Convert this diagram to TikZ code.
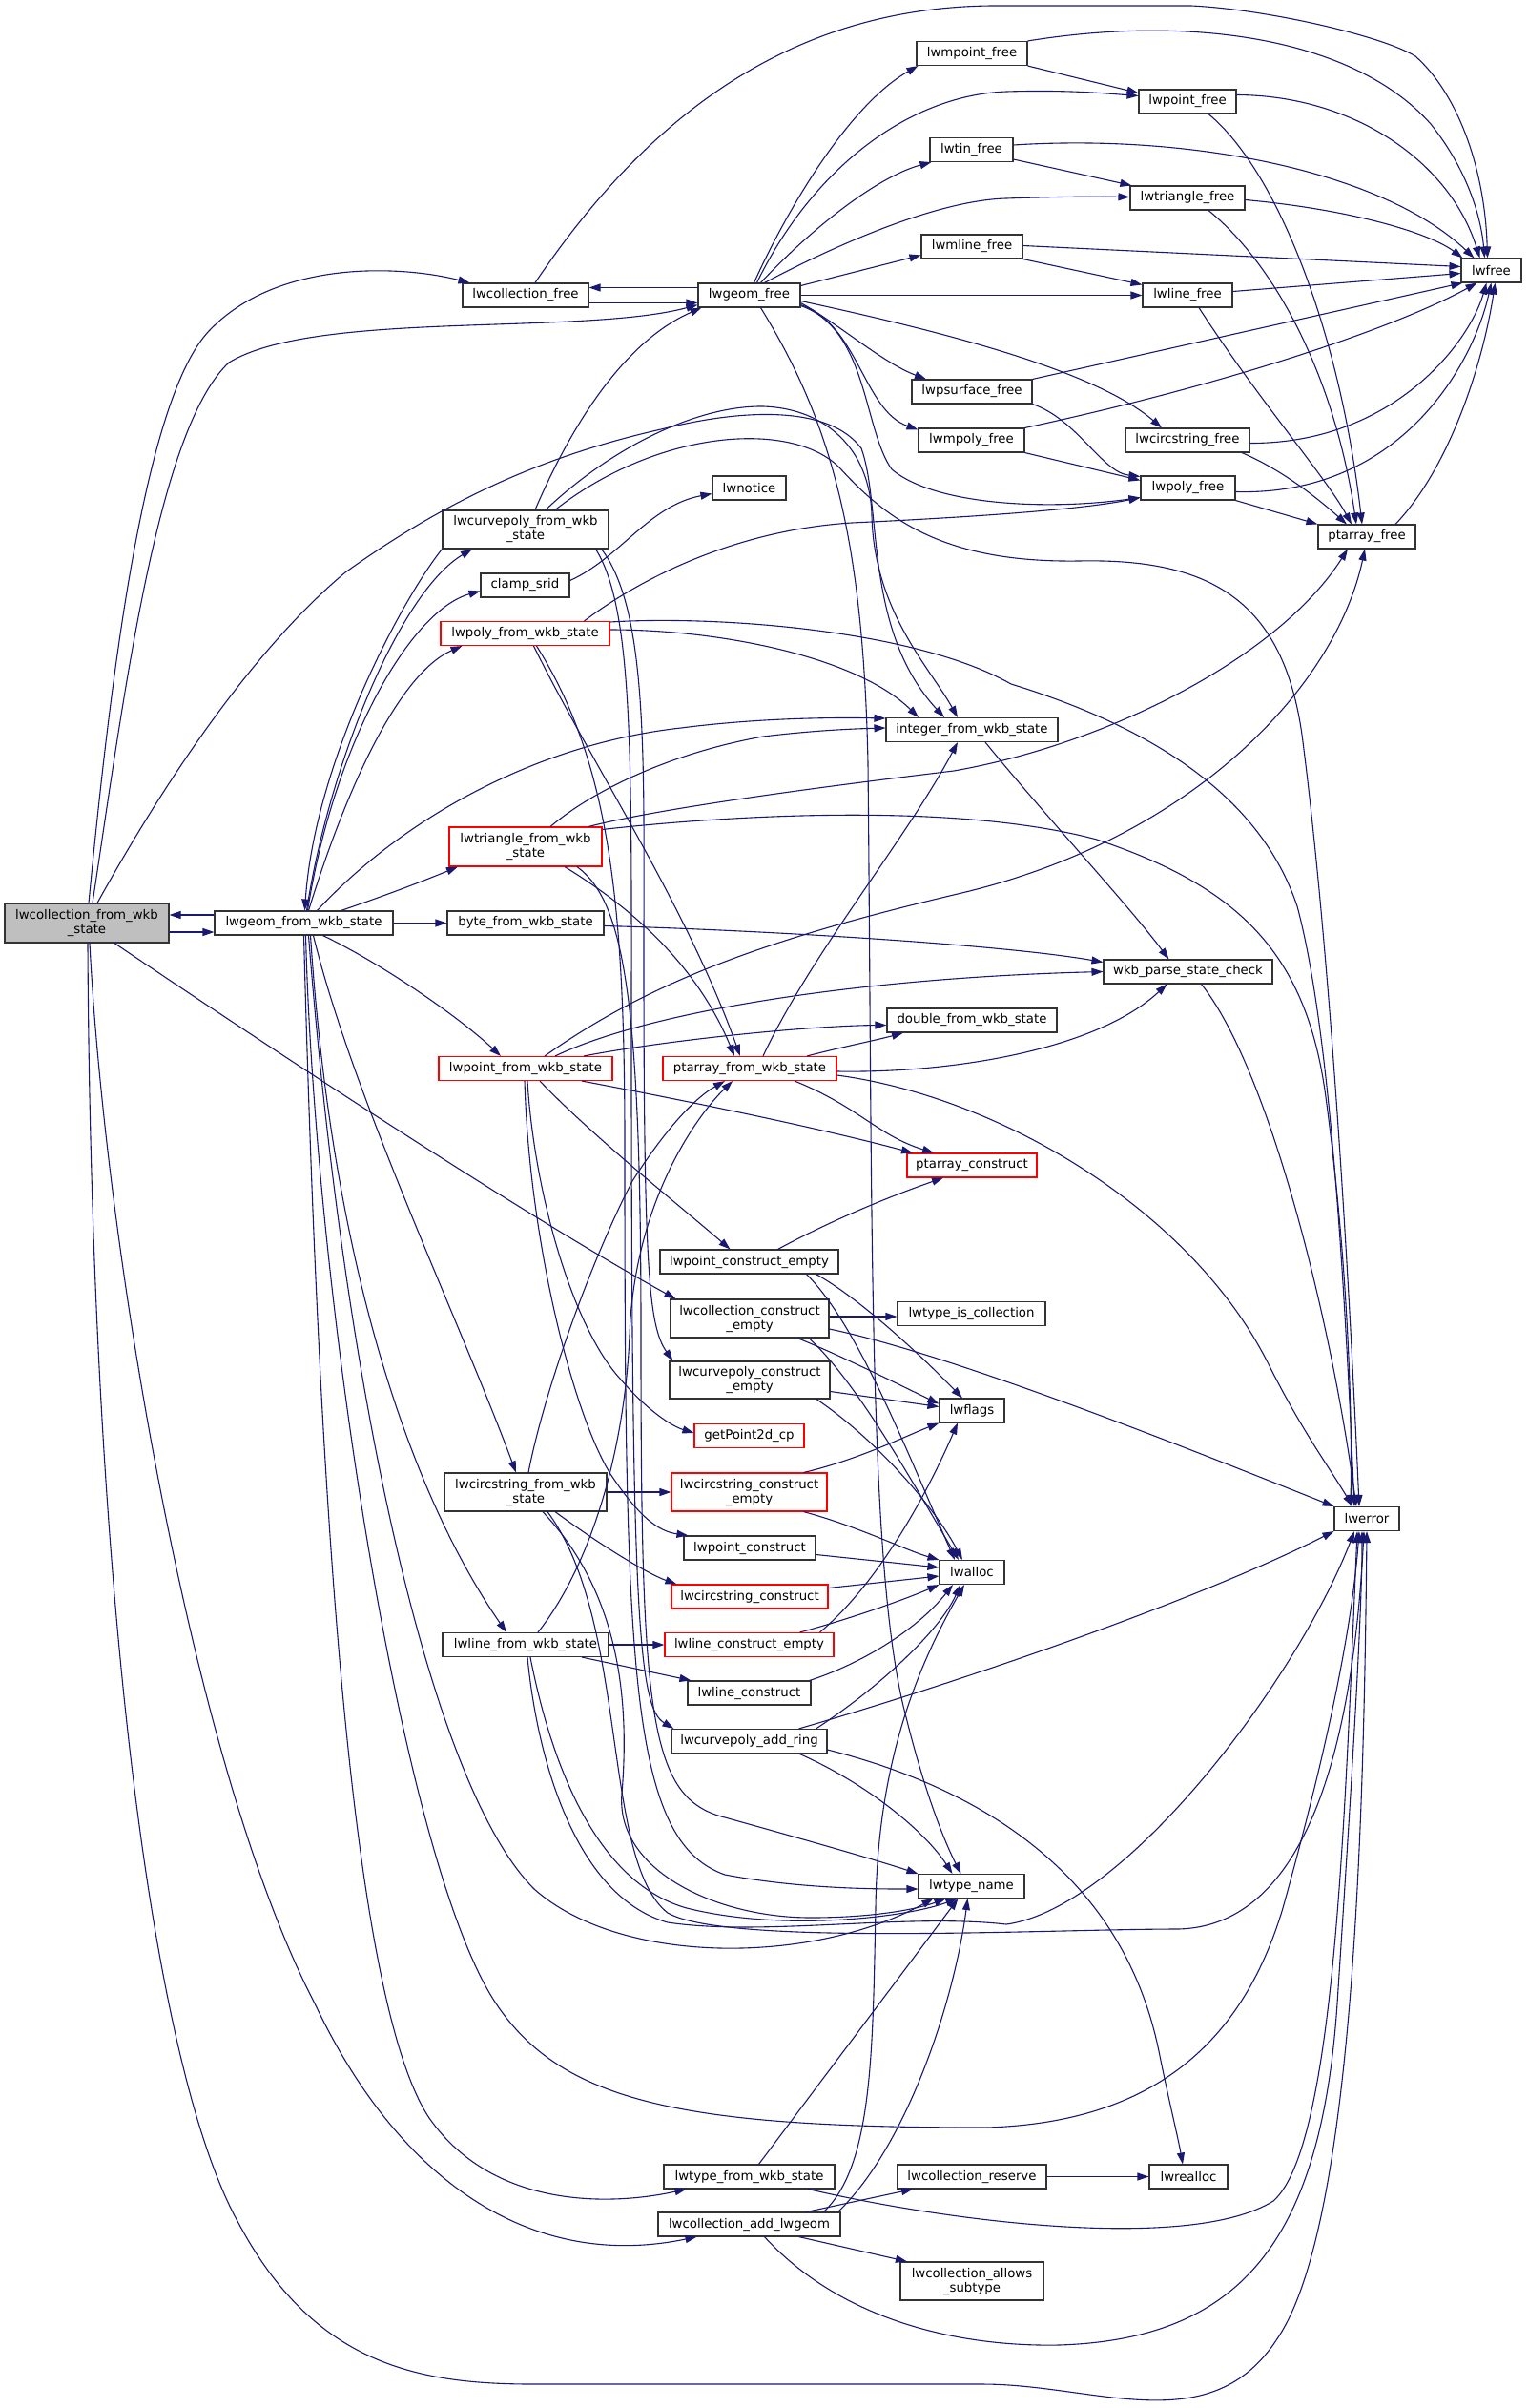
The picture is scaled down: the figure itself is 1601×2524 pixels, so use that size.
\documentclass[tikz,border=0pt]{standalone}
\usepackage{fontspec}
\setmainfont{DejaVu Sans}
\usetikzlibrary{arrows.meta}
\definecolor{edgec}{HTML}{191970}
\definecolor{redb}{HTML}{FF0000}
\definecolor{grayf}{HTML}{BFBFBF}
\newcommand\nf{\fontsize{13.3}{15}\selectfont}
\begin{document}
\begin{tikzpicture}[x=1pt,y=-1pt,
  nbox/.style={draw=black!80,fill=white,line width=1.1pt,inner sep=0pt,minimum height=25pt,font=\nf,align=center},
  rbox/.style={nbox,draw=redb},
  gbox/.style={nbox,fill=grayf},
  ed/.style={draw=edgec,line width=1.1pt,-{Triangle[length=12pt,width=8pt]}}]
\useasboundingbox (0,0) rectangle (1601,2524);
\fill[white] (0,0) rectangle (1601,2524);
% ---------------- nodes ----------------
\node[gbox,minimum width=172pt,minimum height=41pt] (C) at (91,967.5) {lwcollection\_from\_wkb\\\_state};
\node[nbox,minimum width=187pt] (G) at (318.5,967.5) {lwgeom\_from\_wkb\_state};
\node[nbox,minimum width=132pt] (cfree) at (551,309.5) {lwcollection\_free};
\node[nbox,minimum width=107pt] (gfree) at (785.5,309.5) {lwgeom\_free};
\node[nbox,minimum width=116pt] (mptfree) at (1019,56) {lwmpoint\_free};
\node[nbox,minimum width=102pt] (ptfree) at (1245,106.5) {lwpoint\_free};
\node[nbox,minimum width=87pt] (tinfree) at (1018.5,157) {lwtin\_free};
\node[nbox,minimum width=120pt] (trifree) at (1245,207.5) {lwtriangle\_free};
\node[nbox,minimum width=106pt] (mlfree) at (1019,258.5) {lwmline\_free};
\node[nbox,minimum width=94pt] (lfree) at (1245,309.5) {lwline\_free};
\node[nbox,minimum width=63pt] (lwfree) at (1563.5,283.5) {lwfree};
\node[nbox,minimum width=126pt] (psfree) at (1019,410.5) {lwpsurface\_free};
\node[nbox,minimum width=111pt] (mpolyfree) at (1018.5,461.5) {lwmpoly\_free};
\node[nbox,minimum width=130pt] (csfree) at (1245,461.5) {lwcircstring\_free};
\node[nbox,minimum width=99pt] (polyfree) at (1245.5,511.5) {lwpoly\_free};
\node[nbox,minimum width=102pt] (pafree) at (1433,562.5) {ptarray\_free};
\node[nbox,minimum width=77pt] (notice) at (785.5,511.5) {lwnotice};
\node[nbox,minimum width=174pt,minimum height=40pt] (cpwkb) at (551,555) {lwcurvepoly\_from\_wkb\\\_state};
\node[nbox,minimum width=93pt] (srid) at (550.5,613.5) {clamp\_srid};
\node[rbox,minimum width=177pt] (polywkb) at (550.5,664) {lwpoly\_from\_wkb\_state};
\node[nbox,minimum width=180pt] (intwkb) at (1019,765) {integer\_from\_wkb\_state};
\node[rbox,minimum width=160pt,minimum height=41pt] (triwkb) at (551,887.5) {lwtriangle\_from\_wkb\\\_state};
\node[nbox,minimum width=164pt] (bytewkb) at (551,967.5) {byte\_from\_wkb\_state};
\node[nbox,minimum width=177pt] (check) at (1245.5,1018.5) {wkb\_parse\_state\_check};
\node[nbox,minimum width=178pt] (dblwkb) at (1019,1069.5) {double\_from\_wkb\_state};
\node[rbox,minimum width=182pt] (ptwkb) at (551,1120) {lwpoint\_from\_wkb\_state};
\node[rbox,minimum width=182pt] (pawkb) at (786,1120) {ptarray\_from\_wkb\_state};
\node[rbox,minimum width=136pt] (pacons) at (1019,1221.5) {ptarray\_construct};
\node[nbox,minimum width=187pt] (ptempty) at (785.5,1322.5) {lwpoint\_construct\_empty};
\node[nbox,minimum width=166pt,minimum height=40pt] (cempty) at (786,1382) {lwcollection\_construct\\\_empty};
\node[nbox,minimum width=155pt] (iscoll) at (1018.5,1377) {lwtype\_is\_collection};
\node[nbox,minimum width=168pt,minimum height=39pt] (cpempty) at (786,1446.5) {lwcurvepoly\_construct\\\_empty};
\node[nbox,minimum width=68pt] (flags) at (1019,1478.5) {lwflags};
\node[rbox,minimum width=115pt] (gp2d) at (785.5,1505) {getPoint2d\_cp};
\node[nbox,minimum width=170pt,minimum height=40pt] (cswkb) at (551,1564) {lwcircstring\_from\_wkb\\\_state};
\node[rbox,minimum width=163pt,minimum height=40pt] (csempty) at (785.5,1564) {lwcircstring\_construct\\\_empty};
\node[nbox,minimum width=68pt] (err) at (1433,1592) {lwerror};
\node[nbox,minimum width=138pt] (ptcons) at (786,1622.5) {lwpoint\_construct};
\node[nbox,minimum width=68pt] (alloc) at (1019,1648) {lwalloc};
\node[rbox,minimum width=164pt] (cscons) at (786,1673.5) {lwcircstring\_construct};
\node[nbox,minimum width=174pt] (lwkb) at (551,1724) {lwline\_from\_wkb\_state};
\node[rbox,minimum width=177pt] (lempty) at (785.5,1724) {lwline\_construct\_empty};
\node[nbox,minimum width=129pt] (lcons) at (785.5,1774.5) {lwline\_construct};
\node[nbox,minimum width=163pt] (addring) at (785.5,1825) {lwcurvepoly\_add\_ring};
\node[nbox,minimum width=111pt] (tname) at (1018.5,1977) {lwtype\_name};
\node[nbox,minimum width=179pt] (typewkb) at (785.5,2281.5) {lwtype\_from\_wkb\_state};
\node[nbox,minimum width=156pt] (creserve) at (1019,2281.5) {lwcollection\_reserve};
\node[nbox,minimum width=82pt] (realloc) at (1246,2281.5) {lwrealloc};
\node[nbox,minimum width=191pt] (addgeom) at (785.5,2331.5) {lwcollection\_add\_lwgeom};
\node[nbox,minimum width=150pt,minimum height=40pt] (allows) at (1019,2391) {lwcollection\_allows\\\_subtype};
% ---------------- edges: free cluster ----------------
\draw[ed] ([xshift=10]cfree.north) .. controls (680,120) and (830,8) .. (1040,6) -- (1249,6) .. controls (1330,10) and (1450,38) .. (1484,59) .. controls (1530,100) and (1557,180) .. ([xshift=-4]lwfree.north);
\draw[ed] ([yshift=-8]cfree.east) -- ([yshift=-8]gfree.west);
\draw[ed] ([yshift=8]gfree.west) -- ([yshift=8]cfree.east);
\draw[ed] ([xshift=5]gfree.north) .. controls (825,220) and (890,110) .. ([xshift=2]mptfree.south west);
\draw[ed] ([xshift=8]gfree.north) .. controls (850,180) and (950,100) .. (1055,96) .. controls (1120,94) and (1160,98) .. ([yshift=6]ptfree.west);
\draw[ed] ([xshift=12]gfree.north) .. controls (850,240) and (920,185) .. ([xshift=2]tinfree.south west);
\draw[ed] ([xshift=16]gfree.north) .. controls (870,260) and (980,210) .. (1055,208) .. controls (1110,206) and (1150,206) .. ([yshift=1]trifree.west);
\draw[ed] ([yshift=10]gfree.east) -- ([yshift=-9]mlfree.west);
\draw[ed] (gfree.east) -- (lfree.west);
\draw[ed] ([yshift=-6]gfree.east) .. controls (1000,350) and (1150,390) .. ([xshift=-27]csfree.north);
\draw[ed] ([yshift=-8]gfree.east) .. controls (880,340) and (925,380) .. ([xshift=-48]psfree.north);
\draw[ed] ([yshift=-10]gfree.east) .. controls (900,340) and (905,430) .. ([yshift=-2]mpolyfree.north west);
\draw[ed] ([yshift=-11]gfree.east) .. controls (910,345) and (905,450) .. (935,492) .. controls (980,530) and (1100,535) .. ([yshift=-10]polyfree.west);
\draw[ed] ([xshift=12]gfree.south) .. controls (870,440) and (905,560) .. (910,800) .. controls (915,1300) and (910,1650) .. (950,1800) .. controls (970,1880) and (990,1930) .. ([xshift=-11]tname.north);
\draw[ed] (mptfree.north east) .. controls (1250,15) and (1420,40) .. (1500,130) .. controls (1540,180) and (1553,230) .. ([xshift=-7]lwfree.north);
\draw[ed] (mptfree.south east) -- ([yshift=-4]ptfree.north west);
\draw[ed] ([yshift=7]ptfree.east) .. controls (1420,100) and (1520,170) .. ([xshift=-12]lwfree.north);
\draw[ed] ([xshift=22]ptfree.south) .. controls (1340,180) and (1405,350) .. ([xshift=-5]pafree.north);
\draw[ed] ([yshift=5]tinfree.east) .. controls (1250,140) and (1450,180) .. ([xshift=-18]lwfree.north);
\draw[ed] ([yshift=-10]tinfree.east) -- ([xshift=2]trifree.north west);
\draw[ed] ([yshift=-2]trifree.east) .. controls (1420,220) and (1500,245) .. ([xshift=2]lwfree.north west);
\draw[ed] ([xshift=22]trifree.south) .. controls (1340,280) and (1400,400) .. ([xshift=-11]pafree.north);
\draw[ed] ([yshift=1]mlfree.east) -- ([yshift=4]lwfree.west);
\draw[ed] (mlfree.south east) -- ([yshift=-2]lfree.north west);
\draw[ed] ([yshift=4]lfree.east) -- ([yshift=-3]lwfree.west);
\draw[ed] ([xshift=12]lfree.south) .. controls (1320,420) and (1390,500) .. ([xshift=-16]pafree.north);
\draw[ed] (psfree.north east) -- ([xshift=2]lwfree.south west);
\draw[ed] (psfree.south east) .. controls (1130,440) and (1155,495) .. ([yshift=-1]polyfree.north west);
\draw[ed] (mpolyfree.north east) .. controls (1300,400) and (1470,340) .. ([xshift=-15]lwfree.south);
\draw[ed] (mpolyfree.south east) -- ([yshift=-5]polyfree.north west);
\draw[ed] ([yshift=-3]csfree.east) .. controls (1460,465) and (1540,360) .. ([xshift=-5]lwfree.south);
\draw[ed] ([xshift=57]csfree.south) .. controls (1350,495) and (1390,530) .. ([xshift=-21]pafree.north);
\draw[ed] ([yshift=-4]polyfree.east) .. controls (1470,520) and (1545,380) .. (lwfree.south);
\draw[ed] (polyfree.south east) -- (pafree.north west);
\draw[ed] ([xshift=30]pafree.north) .. controls (1520,490) and (1555,380) .. ([xshift=4]lwfree.south);
% ---------------- edges: lwcollection_from_wkb_state ----------------
\draw[ed] ([xshift=2]C.north) .. controls (115,720) and (150,420) .. (219,347) .. controls (290,272) and (420,278) .. ([xshift=8]cfree.north west);
\draw[ed] ([xshift=6]C.north) .. controls (130,730) and (165,450) .. (240,380) .. controls (330,325) and (610,352) .. ([yshift=3]gfree.south west);
\draw[ed] ([xshift=11]C.north) .. controls (200,770) and (290,660) .. (362,600) .. controls (460,530) and (560,480) .. (693,450) .. controls (780,428) and (870,425) .. (903,470) .. controls (925,530) and (905,660) .. ([xshift=-29]intwkb.north);
\draw[ed] ([yshift=-9.5]C.east) -- ([yshift=-9.5]G.west);
\draw[ed] ([yshift=8.5]G.west) -- ([yshift=8.5]C.east);
\draw[ed] ([xshift=29]C.south) .. controls (300,1110) and (560,1280) .. ([xshift=6]cempty.north west);
\draw[ed] ([xshift=3]C.south) .. controls (110,1300) and (200,1850) .. (330,2100) .. controls (420,2290) and (560,2380) .. ([xshift=-55]addgeom.south);
\draw[ed] ([xshift=1]C.south) .. controls (95,1600) and (150,2150) .. (250,2330) .. controls (330,2480) and (440,2499) .. (560,2499) -- (1030,2499) .. controls (1150,2499) and (1270,2560) .. (1340,2450) .. controls (1420,2330) and (1430,1900) .. (err.south);
% ---------------- edges: lwgeom_from_wkb_state ----------------
\draw[ed] (G.east) -- (bytewkb.west);
\draw[ed] ([xshift=3]G.north) .. controls (345,800) and (420,620) .. ([xshift=-56]cpwkb.south);
\draw[ed] (cpwkb.south west) .. controls (420,630) and (330,800) .. ([xshift=1]G.north);
\draw[ed] ([xshift=4]G.north) .. controls (350,780) and (430,640) .. ([yshift=-6]srid.west);
\draw[ed] ([xshift=5]G.north) .. controls (365,820) and (420,705) .. ([xshift=-66]polywkb.south);
\draw[ed] ([xshift=14]G.north) .. controls (420,860) and (560,780) .. (714,763) .. controls (800,752) and (880,752) .. ([yshift=12]intwkb.west);
\draw[ed] ([xshift=39]G.north) .. controls (400,940) and (440,925) .. ([xshift=-71]triwkb.south);
\draw[ed] ([xshift=20]G.south) .. controls (400,1010) and (480,1065) .. ([xshift=-26]ptwkb.north);
\draw[ed] ([xshift=10]G.south) .. controls (370,1150) and (480,1380) .. ([xshift=-10]cswkb.north);
\draw[ed] ([xshift=7]G.south) .. controls (350,1350) and (440,1580) .. ([xshift=-20]lwkb.north);
\draw[ed] (G.south) .. controls (335,1600) and (370,2100) .. (450,2220) .. controls (520,2320) and (650,2310) .. ([xshift=-66]typewkb.south);
\draw[ed] ([xshift=2]G.south) .. controls (330,1350) and (420,1950) .. (520,2100) .. controls (590,2205) and (720,2230) .. (1034,2230) .. controls (1200,2225) and (1300,2150) .. (1345,2000) .. controls (1395,1820) and (1418,1700) .. ([xshift=-8]err.south);
\draw[ed] ([xshift=5]G.south) .. controls (360,1450) and (450,1870) .. (560,1980) .. controls (650,2060) and (850,2060) .. ([xshift=-40]tname.south);
% ---------------- edges: lwcurvepoly_from_wkb_state ----------------
\draw[ed] ([xshift=10]cpwkb.north) .. controls (595,455) and (650,360) .. ([xshift=4]gfree.south west);
\draw[ed] ([xshift=21]cpwkb.north) .. controls (640,470) and (730,425) .. (800,426) .. controls (865,428) and (912,470) .. (914,540) .. controls (916,640) and (975,700) .. ([xshift=-15]intwkb.north);
\draw[ed] ([xshift=31]cpwkb.north) .. controls (690,450) and (830,440) .. (880,490) .. controls (930,545) and (990,590) .. (1131,588) .. controls (1270,585) and (1345,630) .. (1365,770) .. controls (1395,1000) and (1415,1350) .. ([xshift=-8]err.north);
\draw[ed] ([xshift=-8]cpwkb.south east) .. controls (680,640) and (675,800) .. (675,1000) .. controls (675,1330) and (680,1390) .. ([xshift=4]cpempty.north west);
\draw[ed] ([xshift=-14]cpwkb.south east) .. controls (665,640) and (662,800) .. (662,1100) .. controls (662,1700) and (670,1790) .. ([xshift=3]addring.north west);
\draw[ed] ([yshift=5]srid.east) .. controls (650,585) and (680,530) .. ([yshift=-6]notice.west);
% ---------------- edges: lwpoly / lwtriangle ----------------
\draw[ed] ([xshift=62]polywkb.north) .. controls (680,600) and (780,555) .. (893,548) .. controls (1000,543) and (1130,535) .. ([yshift=-10]polyfree.west);
\draw[ed] ([yshift=12]polywkb.east) .. controls (750,645) and (960,660) .. (1060,717) .. controls (1200,760) and (1320,830) .. (1360,950) .. controls (1395,1080) and (1410,1350) .. ([xshift=-13]err.north);
\draw[ed] ([yshift=4]polywkb.east) .. controls (760,660) and (900,690) .. ([xshift=-56]intwkb.north);
\draw[ed] ([xshift=9]polywkb.south) .. controls (620,800) and (720,950) .. ([xshift=-10]pawkb.north);
\draw[ed] ([xshift=12]polywkb.south) .. controls (640,800) and (655,950) .. (655,1200) .. controls (655,1750) and (660,1930) .. (760,1965) .. controls (840,1980) and (920,1980) .. ([yshift=-3]tname.west);
\draw[ed] ([xshift=26]triwkb.north) .. controls (620,830) and (700,790) .. (800,772) .. controls (850,766) and (890,764) .. ([yshift=2]intwkb.west);
\draw[ed] ([xshift=66]triwkb.north) .. controls (700,845) and (900,820) .. (1000,808) .. controls (1160,780) and (1340,690) .. ([xshift=-20]pafree.south);
\draw[ed] ([yshift=-3]triwkb.north east) .. controls (760,855) and (1000,840) .. (1150,880) .. controls (1300,930) and (1370,1000) .. (1390,1150) .. controls (1410,1300) and (1418,1450) .. ([xshift=-17]err.north);
\draw[ed] ([xshift=41]triwkb.south) .. controls (660,950) and (730,1010) .. ([xshift=-16]pawkb.north);
\draw[ed] ([xshift=54]triwkb.south) .. controls (655,945) and (672,1050) .. (672,1400) .. controls (672,1800) and (680,1885) .. (760,1905) .. controls (850,1930) and (920,1950) .. ([yshift=13]tname.west);
% ---------------- edges: byte / integer / check ----------------
\draw[ed] ([yshift=-3]bytewkb.east) .. controls (800,975) and (1050,990) .. ([yshift=10]check.west);
\draw[ed] ([xshift=14]intwkb.south) .. controls (1100,860) and (1180,945) .. ([xshift=-20]check.north);
\draw[ed] ([xshift=14]check.south) .. controls (1330,1120) and (1395,1380) .. ([xshift=-11]err.north);
% ---------------- edges: ptarray_from_wkb_state ----------------
\draw[ed] ([xshift=14]pawkb.north) .. controls (850,1000) and (950,880) .. ([xshift=-15]intwkb.south);
\draw[ed] ([xshift=60]pawkb.north) .. controls (880,1098) and (920,1090) .. ([xshift=-72]dblwkb.south);
\draw[ed] ([yshift=-3]pawkb.east) .. controls (1000,1125) and (1150,1100) .. ([xshift=-22]check.south);
\draw[ed] ([yshift=-7]pawkb.east) .. controls (1050,1150) and (1250,1270) .. (1330,1430) .. controls (1365,1500) and (1395,1540) .. ([xshift=-15]err.north);
\draw[ed] ([xshift=47]pawkb.south) .. controls (900,1160) and (920,1190) .. ([xshift=-40]pacons.north);
% ---------------- edges: lwpoint_from_wkb_state ----------------
\draw[ed] ([xshift=20]ptwkb.north) .. controls (680,1030) and (800,985) .. (1004,937) .. controls (1250,880) and (1400,720) .. ([xshift=-2]pafree.south);
\draw[ed] ([xshift=31]ptwkb.north) .. controls (680,1060) and (900,1025) .. (check.west);
\draw[ed] ([xshift=61]ptwkb.north) .. controls (700,1090) and (850,1075) .. ([yshift=-5]dblwkb.west);
\draw[ed] ([xshift=59]ptwkb.south) .. controls (700,1150) and (850,1180) .. ([xshift=-62]pacons.north);
\draw[ed] ([xshift=15]ptwkb.south) .. controls (620,1190) and (720,1270) .. ([xshift=-20]ptempty.north);
\draw[ed] ([xshift=2]ptwkb.south) .. controls (560,1250) and (600,1390) .. (650,1445) .. controls (680,1480) and (705,1495) .. ([yshift=3]gp2d.west);
\draw[ed] ([xshift=-1]ptwkb.south) .. controls (555,1300) and (600,1480) .. (640,1545) .. controls (670,1590) and (690,1605) .. ([xshift=5]ptcons.north west);
% ---------------- edges: constructors ----------------
\draw[ed] ([xshift=30]ptempty.north) .. controls (870,1280) and (930,1255) .. ([xshift=-30]pacons.south);
\draw[ed] ([xshift=70]ptempty.south) .. controls (900,1360) and (965,1420) .. ([xshift=-10]flags.north);
\draw[ed] ([xshift=60]ptempty.south) .. controls (900,1390) and (950,1520) .. ([xshift=-18]alloc.north);
\draw[ed] ([yshift=2]cempty.east) -- ([yshift=-3]iscoll.west);
\draw[ed] ([yshift=-11]cempty.east) .. controls (1000,1420) and (1250,1520) .. (err.north west);
\draw[ed] ([xshift=50]cempty.south) .. controls (880,1420) and (950,1455) .. ([yshift=7]flags.west);
\draw[ed] ([xshift=62]cempty.south) .. controls (900,1450) and (960,1560) .. ([xshift=-14]alloc.north);
\draw[ed] ([yshift=-12]cpempty.east) -- ([yshift=4]flags.west);
\draw[ed] ([xshift=70]cpempty.south) .. controls (920,1510) and (980,1580) .. ([xshift=-10]alloc.north);
\draw[ed] ([xshift=57]csempty.north) .. controls (900,1530) and (950,1505) .. (flags.south west);
\draw[ed] ([xshift=57]csempty.south) .. controls (900,1600) and (950,1625) .. (alloc.north west);
\draw[ed] ([yshift=-7]ptcons.east) -- ([yshift=5]alloc.west);
\draw[ed] ([yshift=9]cscons.east) -- ([yshift=-4]alloc.west);
\draw[ed] ([xshift=53]lempty.north) .. controls (880,1700) and (940,1680) .. (alloc.south west);
\draw[ed] ([xshift=74]lempty.north) .. controls (920,1660) and (970,1570) .. ([xshift=-15]flags.south);
\draw[ed] ([xshift=-2]lcons.north east) .. controls (900,1745) and (960,1710) .. ([xshift=-20]alloc.south);
% ---------------- edges: lwcircstring_from_wkb_state ----------------
\draw[ed] ([xshift=3]cswkb.north) .. controls (570,1460) and (620,1320) .. (663,1238) .. controls (700,1180) and (730,1150) .. ([xshift=-26]pawkb.south);
\draw[ed] (cswkb.east) -- (csempty.west);
\draw[ed] ([xshift=31]cswkb.south) .. controls (630,1620) and (680,1650) .. ([xshift=6]cscons.north west);
\draw[ed] ([xshift=18]cswkb.south) .. controls (640,1660) and (662,1760) .. (652,1880) .. controls (645,1960) and (750,2010) .. (850,2010) .. controls (920,2010) and (965,2000) .. ([xshift=-27]tname.south);
\draw[ed] ([xshift=23]cswkb.south) .. controls (660,1700) and (630,1950) .. (700,2005) .. controls (760,2040) and (1100,2022) .. (1234,2022) .. controls (1380,2020) and (1420,1800) .. ([xshift=-3]err.south);
% ---------------- edges: lwline_from_wkb_state ----------------
\draw[ed] ([xshift=13]lwkb.north) .. controls (620,1640) and (655,1520) .. (660,1400) .. controls (665,1260) and (730,1170) .. ([xshift=-18]pawkb.south);
\draw[ed] (lwkb.east) -- (lempty.west);
\draw[ed] ([xshift=59]lwkb.south) -- ([xshift=4]lcons.north west);
\draw[ed] ([xshift=2]lwkb.south) .. controls (565,1860) and (610,1990) .. (700,2015) .. controls (800,2030) and (950,2005) .. (1055,2017) .. controls (1180,2000) and (1360,1760) .. ([xshift=-13]err.south);
\draw[ed] ([xshift=5]lwkb.south) .. controls (580,1860) and (630,1975) .. (720,2000) .. controls (820,2025) and (950,2010) .. ([xshift=-15]tname.south);
% ---------------- edges: lwcurvepoly_add_ring ----------------
\draw[ed] ([xshift=70]addring.north) .. controls (920,1770) and (985,1710) .. ([xshift=-12]alloc.south);
\draw[ed] ([xshift=52]addring.north) .. controls (1000,1765) and (1250,1680) .. (err.south west);
\draw[ed] ([xshift=52]addring.south) .. controls (910,1870) and (970,1920) .. ([xshift=-20]tname.north);
\draw[ed] ([yshift=-9]addring.east) .. controls (1050,1880) and (1180,1980) .. (1215,2150) .. controls (1225,2200) and (1235,2240) .. ([xshift=-6]realloc.north);
% ---------------- edges: bottom ----------------
\draw[ed] ([xshift=10]typewkb.north) -- ([xshift=-14]tname.south);
\draw[ed] ([xshift=62]typewkb.south) .. controls (1000,2330) and (1250,2360) .. (1335,2307) .. controls (1400,2250) and (1410,1900) .. ([xshift=-10]err.south);
\draw[ed] (creserve.east) -- (realloc.west);
\draw[ed] ([xshift=60]addgeom.north) -- ([xshift=-62]creserve.south);
\draw[ed] ([xshift=52]addgeom.south) -- ([xshift=-68]allows.north);
\draw[ed] ([xshift=78]addgeom.north) .. controls (915,2270) and (915,2150) .. (918,2000) .. controls (920,1850) and (960,1750) .. ([xshift=-8]alloc.south);
\draw[ed] ([xshift=-3]addgeom.north east) .. controls (950,2250) and (1000,2100) .. ([xshift=-4]tname.south);
\draw[ed] ([xshift=16]addgeom.south) .. controls (880,2430) and (1000,2460) .. (1110,2458) .. controls (1300,2452) and (1385,2350) .. (1402,2100) .. controls (1415,1900) and (1428,1700) .. ([xshift=-5]err.south);
\end{tikzpicture}
\end{document}
